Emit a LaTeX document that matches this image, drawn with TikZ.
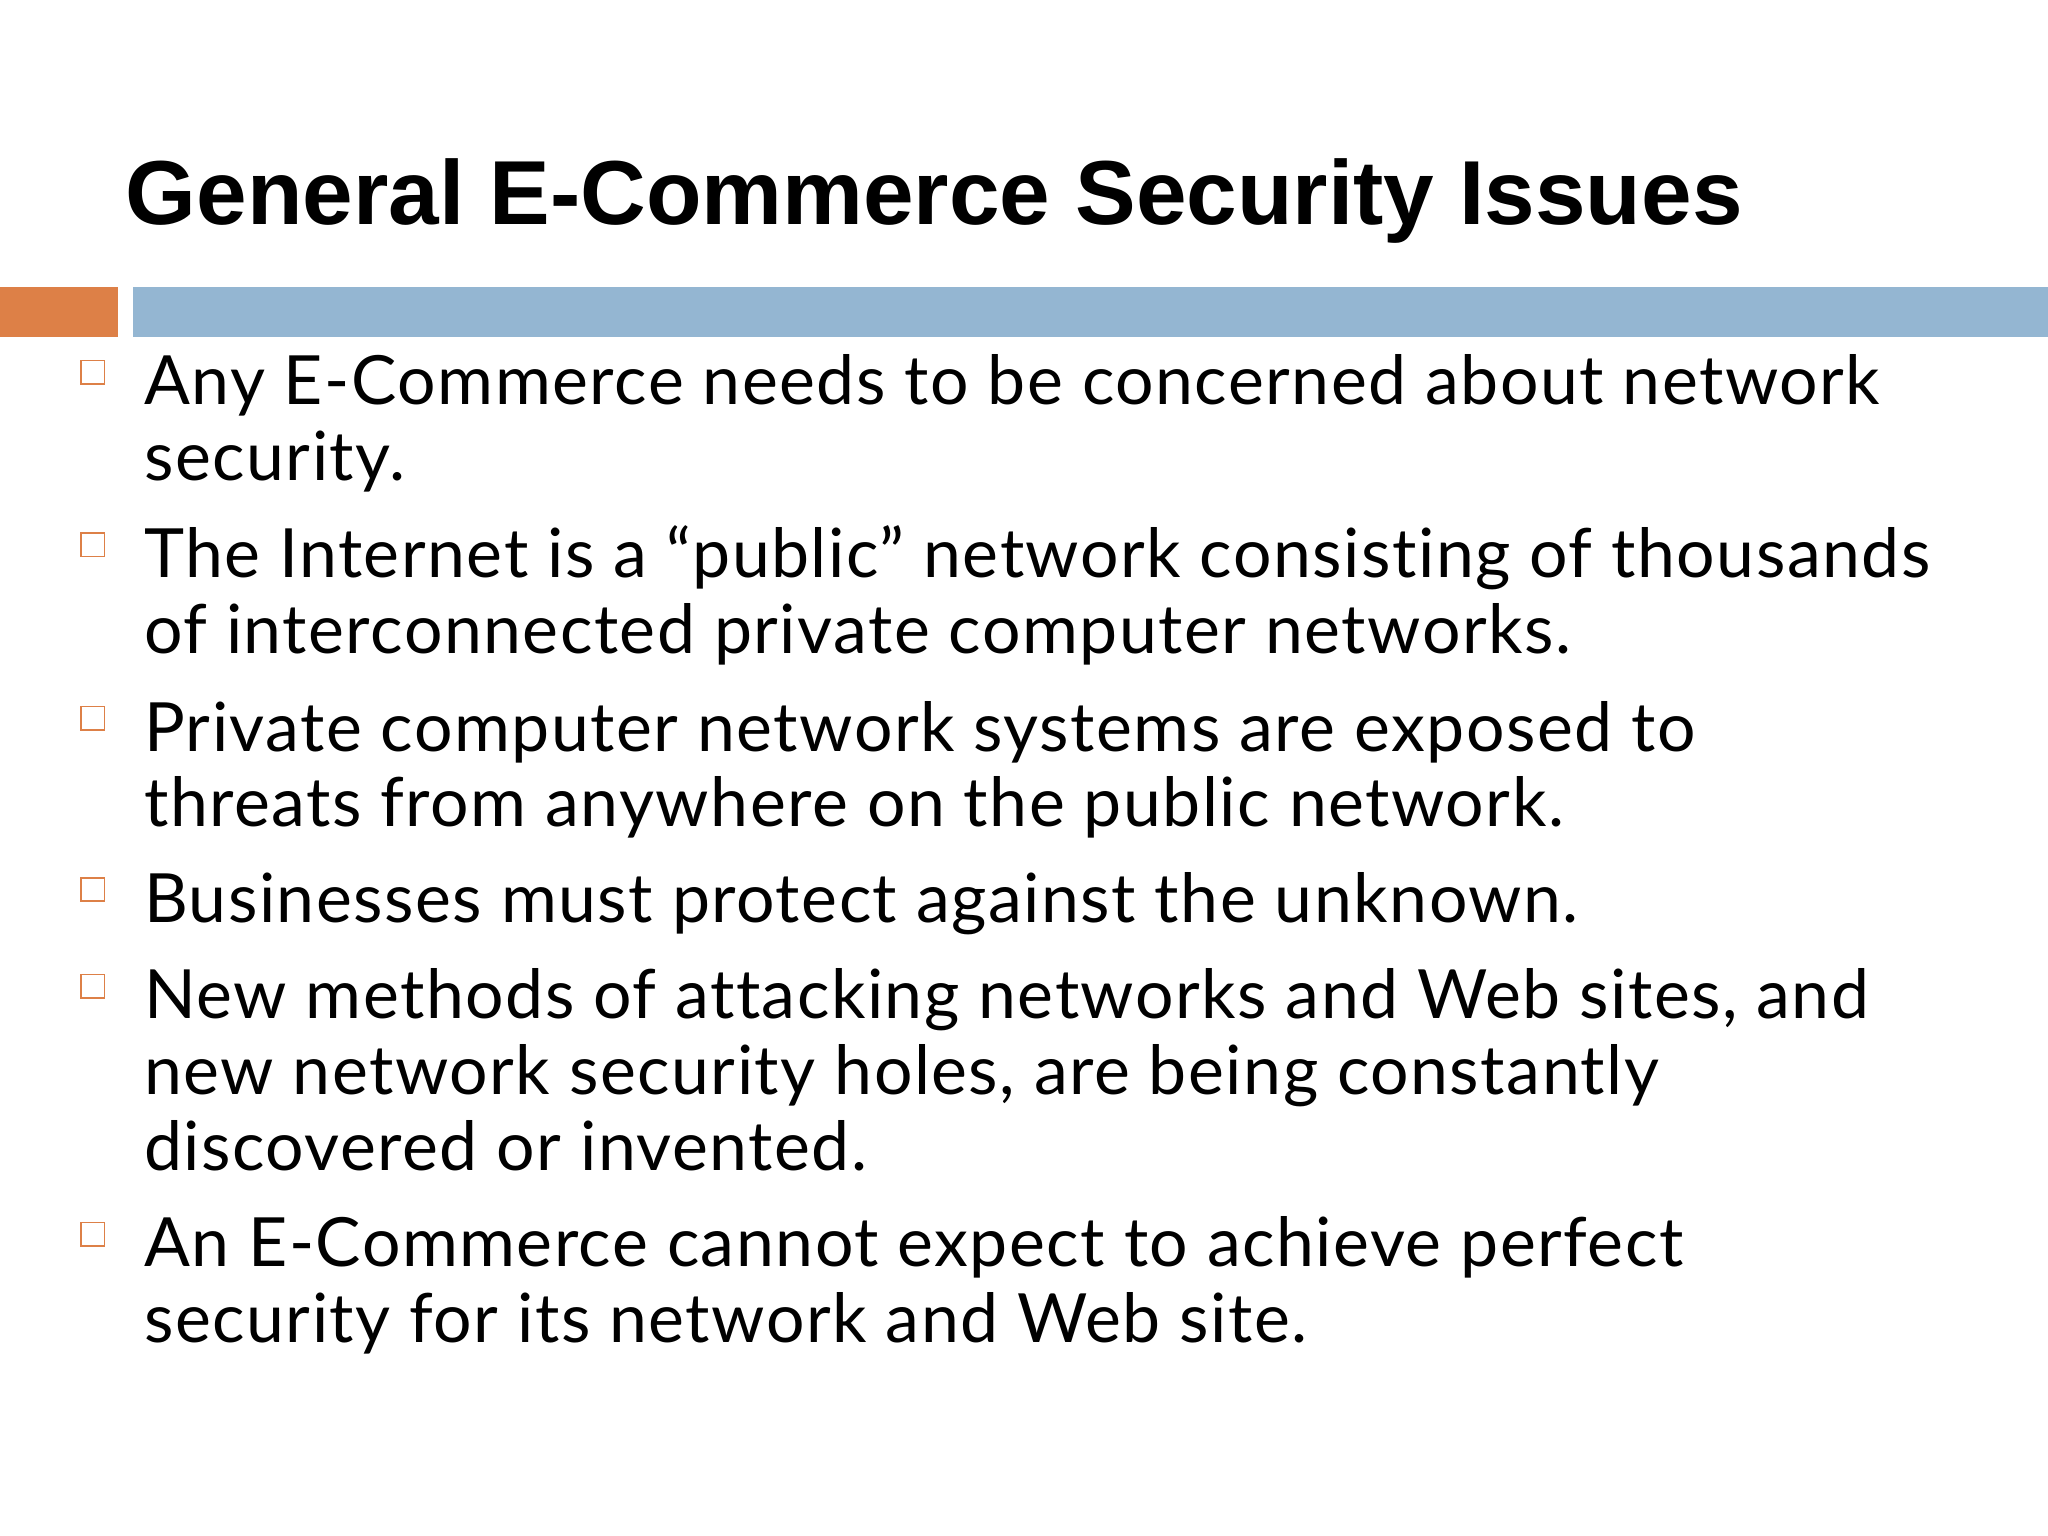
\documentclass[tikz,border=0pt]{standalone}
\usepackage{fontspec}
\setmainfont{Lato}[LetterSpace=2.2,Ligatures=NoCommon]
\newfontfamily\titlefont{Liberation Sans}
\definecolor{orbar}{HTML}{DD8047}
\definecolor{blbar}{HTML}{94B6D2}
\begin{document}
\begin{tikzpicture}[x=0.5pt,y=-0.5pt,
  bodyline/.style={anchor=base west,inner sep=0pt,font=\fontsize{26}{30}\selectfont},
  bul/.style={draw=orbar,line width=0.6pt}]
\useasboundingbox (0,0) rectangle (1568,1176);
\fill[white] (0,0) rectangle (1568,1176);
\node[anchor=base west,inner sep=0pt,font=\titlefont\bfseries\fontsize{34.8}{40}\selectfont] (title) at (96,172) {General E-Commerce Security Issues};
\fill[orbar] (0,220) rectangle (90,258);
\fill[blbar] (102,220) rectangle (1568,258);
\foreach \y/\n in {310/1,442/2,575/3,706/4,780/5,970/6}{
  \draw[bul] (62,\y-34) rectangle (80,\y-16);
}
\node[bodyline] (l1a) at (110,310) {Any E-Commerce needs to be concerned about network};
\node[bodyline] (l1b) at (110,368) {security.};
\node[bodyline] (l2a) at (110,442) {The Internet is a “public” network consisting of thousands};
\node[bodyline] (l2b) at (110,500) {of interconnected private computer networks.};
\node[bodyline] (l3a) at (110,575) {Private computer network systems are exposed to};
\node[bodyline] (l3b) at (110,633) {threats from anywhere on the public network.};
\node[bodyline] (l4a) at (110,706) {Businesses must protect against the unknown.};
\node[bodyline] (l5a) at (110,780) {New methods of attacking networks and Web sites, and};
\node[bodyline] (l5b) at (110,838) {new network security holes, are being constantly};
\node[bodyline] (l5c) at (110,896) {discovered or invented.};
\node[bodyline] (l6a) at (110,970) {An E-Commerce cannot expect to achieve perfect};
\node[bodyline] (l6b) at (110,1028) {security for its network and Web site.};
\end{tikzpicture}
\end{document}
